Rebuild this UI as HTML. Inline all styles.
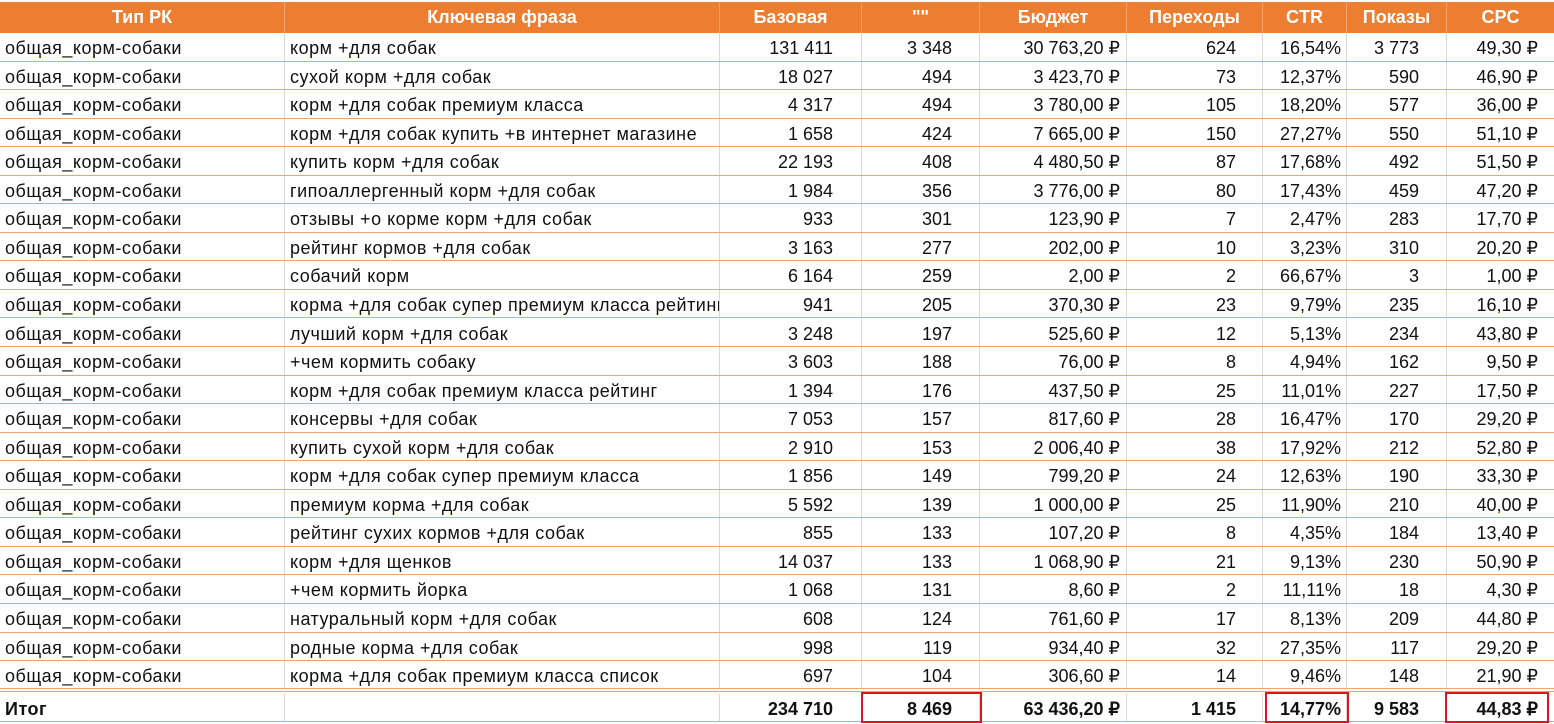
<!DOCTYPE html>
<html><head><meta charset="utf-8"><style>
body{margin:0;width:1554px;height:724px;background:#fff;overflow:hidden;font-family:"Liberation Sans",sans-serif;font-size:18px;color:#111;position:relative}
.r{position:absolute;left:0;width:1554px;height:28.55px;border-bottom:1.5px solid #f0a56e;box-sizing:border-box}
.c{position:absolute;top:0;height:100%;line-height:30px;box-sizing:border-box;border-right:1px solid #d8d8d8;white-space:nowrap;overflow:hidden;padding:0 5px}
.t{text-align:left;letter-spacing:0.5px}
.n{text-align:right}
.h{position:absolute;left:0;top:2px;width:1554px;height:31px;background:#ed7d31;color:#fff;font-weight:bold}
.h .c{text-align:center;border-right:1px solid #f3a46c;line-height:31px}
.box{position:absolute;border:2px solid #e0141e;box-sizing:border-box}
</style></head><body>
<div class="h">
<div class="c" style="left:0;width:285px">Тип РК</div>
<div class="c" style="left:285px;width:435px">Ключевая фраза</div>
<div class="c" style="left:720px;width:142px">Базовая</div>
<div class="c" style="left:862px;width:118px">""</div>
<div class="c" style="left:980px;width:147px">Бюджет</div>
<div class="c" style="left:1127px;width:136px">Переходы</div>
<div class="c" style="left:1263px;width:84px">CTR</div>
<div class="c" style="left:1347px;width:100px">Показы</div>
<div class="c" style="left:1447px;width:107px;border:none">CPC</div>
</div>
<div id="rows"></div>
<script>
var d=[
["корм +для собак","131 411","3 348","30 763,20 ₽","624","16,54%","3 773","49,30 ₽"],
["сухой корм +для собак","18 027","494","3 423,70 ₽","73","12,37%","590","46,90 ₽"],
["корм +для собак премиум класса","4 317","494","3 780,00 ₽","105","18,20%","577","36,00 ₽"],
["корм +для собак купить +в интернет магазине","1 658","424","7 665,00 ₽","150","27,27%","550","51,10 ₽"],
["купить корм +для собак","22 193","408","4 480,50 ₽","87","17,68%","492","51,50 ₽"],
["гипоаллергенный корм +для собак","1 984","356","3 776,00 ₽","80","17,43%","459","47,20 ₽"],
["отзывы +о корме корм +для собак","933","301","123,90 ₽","7","2,47%","283","17,70 ₽"],
["рейтинг кормов +для собак","3 163","277","202,00 ₽","10","3,23%","310","20,20 ₽"],
["собачий корм","6 164","259","2,00 ₽","2","66,67%","3","1,00 ₽"],
["корма +для собак супер премиум класса рейтинг","941","205","370,30 ₽","23","9,79%","235","16,10 ₽"],
["лучший корм +для собак","3 248","197","525,60 ₽","12","5,13%","234","43,80 ₽"],
["+чем кормить собаку","3 603","188","76,00 ₽","8","4,94%","162","9,50 ₽"],
["корм +для собак премиум класса рейтинг","1 394","176","437,50 ₽","25","11,01%","227","17,50 ₽"],
["консервы +для собак","7 053","157","817,60 ₽","28","16,47%","170","29,20 ₽"],
["купить сухой корм +для собак","2 910","153","2 006,40 ₽","38","17,92%","212","52,80 ₽"],
["корм +для собак супер премиум класса","1 856","149","799,20 ₽","24","12,63%","190","33,30 ₽"],
["премиум корма +для собак","5 592","139","1 000,00 ₽","25","11,90%","210","40,00 ₽"],
["рейтинг сухих кормов +для собак","855","133","107,20 ₽","8","4,35%","184","13,40 ₽"],
["корм +для щенков","14 037","133","1 068,90 ₽","21","9,13%","230","50,90 ₽"],
["+чем кормить йорка","1 068","131","8,60 ₽","2","11,11%","18","4,30 ₽"],
["натуральный корм +для собак","608","124","761,60 ₽","17","8,13%","209","44,80 ₽"],
["родные корма +для собак","998","119","934,40 ₽","32","27,35%","117","29,20 ₽"],
["корма +для собак премиум класса список","697","104","306,60 ₽","14","9,46%","148","21,90 ₽"]];
var L=[0,285,720,862,980,1127,1263,1347,1447,1554];
var P=[5,5,28,27,6,26,5,27,16];
function row(top,vals,bold,extra){
 var h='<div class="r" style="top:'+top+'px;'+(extra||'')+(bold?'font-weight:bold;':'')+'">';
 for(var i=0;i<9;i++){h+='<div class="c '+(i<2?'t':'n')+'" style="left:'+L[i]+'px;width:'+(L[i+1]-L[i])+'px;'+(i>=2?'padding-right:'+P[i]+'px;':'')+(i==8?'border-right:none;':'')+'">'+vals[i]+'</div>';}
 return h+'</div>';
}
var s='';
for(var k=0;k<d.length;k++){s+=row(33+k*28.55,["общая_корм-собаки"].concat(d[k]),false,k==d.length-1?'border-bottom:4px double #f0a56e;height:30.5px;':'');}
s+=row(694,["Итог","","234 710","8 469","63 436,20 ₽","1 415","14,77%","9 583","44,83 ₽"],true,'height:28px;');
document.getElementById('rows').innerHTML=s;
</script>
<div class="box" style="left:861px;top:692px;width:121px;height:31px"></div>
<div class="box" style="left:1265px;top:692px;width:84px;height:31px"></div>
<div class="box" style="left:1445px;top:692px;width:104px;height:31px"></div>
</body></html>
